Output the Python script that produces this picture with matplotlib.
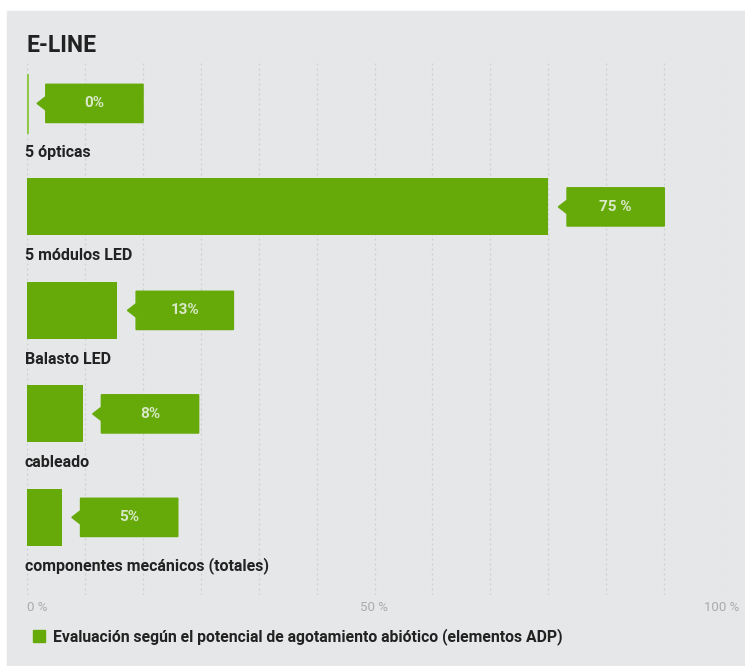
import matplotlib.pyplot as plt
from matplotlib.patches import Rectangle, Polygon, Patch

plt.rcParams['font.family'] = ['Roboto', 'DejaVu Sans']

categories = ['5 ópticas', '5 módulos LED', 'Balasto LED', 'cableado',
              'componentes mecánicos (totales)']
values = [0, 75, 13, 8, 5]
value_labels = ['0%', '75 %', '13%', '8%', '5%']
tick_values = [0, 50, 100]
tick_labels = ['0 %', '50 %', '100 %']
legend_label = 'Evaluación según el potencial de agotamiento abiótico (elementos ADP)'

green = '#66aa0a'
panel = '#e6e7e8'
W, H = 745, 666

fig = plt.figure(figsize=(W / 100, H / 100), dpi=100)
fig.patch.set_facecolor('white')
fig.add_artist(Rectangle((7 / W, 0), 1 - 7 / W, (H - 11) / H,
                         transform=fig.transFigure, color=panel, zorder=0))

# axes: x 0..100 -> px 27..722, y top 62 bottom 595
ax = fig.add_axes([27 / W, (H - 595) / H, 695 / W, 533 / H])
ax.set_facecolor('none')
ax.set_xlim(0, 100)
ax.set_ylim(4.75, -0.40)
for s in ax.spines.values():
    s.set_visible(False)
ax.set_yticks([])
ax.set_xticks(tick_values)
ax.set_xticklabels(tick_labels, color='#ababab', fontsize=9.5)
ax.tick_params(axis='x', length=0, pad=4)
ax.get_xticklabels()[0].set_horizontalalignment('left')

# dotted grid, 12 divisions
grid_x = [i * 100 / 12 for i in range(13)]
for gx in grid_x:
    ax.axvline(gx, color='#cdcecf', lw=0.9, ls=(0, (1.5, 2.5)), zorder=1)

bar_h = 0.55
for i, (cat, v, lab) in enumerate(zip(categories, values, value_labels)):
    if v == 0:
        ax.plot([0, 0], [i - bar_h / 2, i + bar_h / 2], color='#8dc63f', lw=2, zorder=3)
    else:
        ax.barh(i, v, height=bar_h, color=green, zorder=3)
    # callout box with notch
    tip = v + 1.45
    left = v + 2.7
    right = left + 14
    hh = 0.185
    notch = 0.065
    poly = Polygon([(tip, i), (left, i - notch), (left, i - hh), (right, i - hh),
                    (right, i + hh), (left, i + hh), (left, i + notch)],
                   closed=True, color=green, zorder=3)
    ax.add_patch(poly)
    ax.text((left + right) / 2, i, lab, ha='center', va='center', color='#d9e8c6',
            fontsize=11, fontweight='bold', zorder=4)
    ax.text(-0.3, i + 0.47, cat, ha='left', va='center', color='#222222',
            fontsize=11.5, fontweight='bold')

fig.text(27 / W, 1 - 45 / H, 'E-LINE', ha='left', va='center', fontsize=16.5,
         fontweight='bold', color='#222222')

fig.legend(handles=[Patch(color=green, label=legend_label)], loc='center left',
           bbox_to_anchor=(19 / W, 1 - 637 / H), frameon=False, handlelength=0.75,
           handleheight=0.8, handletextpad=0.5, prop={'weight': 'bold', 'size': 11.3},
           labelcolor='#222222')

fig.savefig('out.png', dpi=100, facecolor='white')
